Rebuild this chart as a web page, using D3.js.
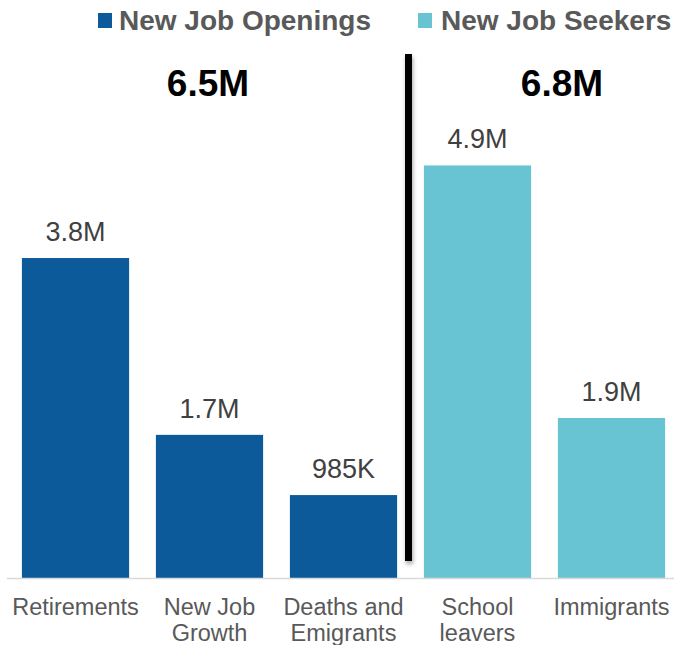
<!DOCTYPE html>
<html>
<head>
<meta charset="utf-8">
<script src="https://cdn.jsdelivr.net/npm/d3@7"></script>
<style>
  body { margin: 0; background: #fff; }
  text { font-family: "Liberation Sans", Arial, sans-serif; }
</style>
</head>
<body>
<div id="chart"></div>
<script>
// categories and values (millions)
const categories = ['Retirements', 'New Job Growth', 'Deaths and Emigrants', 'School leavers', 'Immigrants'];
const axisLabels = [['Retirements'], ['New Job', 'Growth'], ['Deaths and', 'Emigrants'], ['School', 'leavers'], ['Immigrants']];
const values = [3.8, 1.7, 0.985, 4.9, 1.9];
const valueLabels = ['3.8M', '1.7M', '985K', '4.9M', '1.9M'];
const groups = ['New Job Openings', 'New Job Openings', 'New Job Openings', 'New Job Seekers', 'New Job Seekers'];
const seriesNames = ['New Job Openings', 'New Job Seekers'];
const totals = ['6.5M', '6.8M'];

const width = 674, height = 645;
const baseline = 578;

const color = d3.scaleOrdinal()
    .domain(seriesNames)
    .range(['#0C5A9A', '#68C4D3']);

const x = d3.scaleBand()
    .domain(categories)
    .range([8.5, 678.5])
    .paddingInner(0.2)
    .paddingOuter(0.1);

const y = d3.scaleLinear()
    .domain([0, 6])
    .range([baseline, baseline - 6 * 84.2]);

const svg = d3.select('#chart').append('svg')
    .attr('width', width)
    .attr('height', height);

// shadow for the divider
const defs = svg.append('defs');
const f = defs.append('filter').attr('id', 'shadow')
    .attr('x', '-100%').attr('y', '-5%').attr('width', '300%').attr('height', '110%');
f.append('feDropShadow')
    .attr('dx', 1).attr('dy', 3).attr('stdDeviation', 2)
    .attr('flood-color', '#000').attr('flood-opacity', 0.35);

// bars
svg.selectAll('.bar')
    .data(categories)
    .enter().append('rect')
    .attr('class', 'bar')
    .attr('x', d => x(d))
    .attr('width', x.bandwidth())
    .attr('y', (d, i) => y(values[i]))
    .attr('height', (d, i) => y(0) - y(values[i]))
    .attr('fill', (d, i) => color(groups[i]));

// baseline
svg.append('line')
    .attr('x1', 7).attr('x2', width)
    .attr('y1', baseline + 0.5).attr('y2', baseline + 0.5)
    .attr('stroke', '#d9d9d9')
    .attr('stroke-width', 1.5);

// value labels
svg.selectAll('.value-label')
    .data(categories)
    .enter().append('text')
    .attr('class', 'value-label')
    .attr('x', d => x(d) + x.bandwidth() / 2)
    .attr('y', (d, i) => y(values[i]) - 17)
    .attr('text-anchor', 'middle')
    .attr('font-size', '27px')
    .attr('fill', '#404040')
    .text((d, i) => valueLabels[i]);

// category labels
const cat = svg.selectAll('.cat-label')
    .data(categories)
    .enter().append('text')
    .attr('class', 'cat-label')
    .attr('text-anchor', 'middle')
    .attr('font-size', '23.5px')
    .attr('fill', '#595959');

cat.selectAll('tspan')
    .data((d, i) => axisLabels[i].map(t => ({ t: t, cx: x(d) + x.bandwidth() / 2 })))
    .enter().append('tspan')
    .attr('x', d => d.cx)
    .attr('y', (d, j) => 615 + j * 26)
    .text(d => d.t);

// divider
svg.append('rect')
    .attr('x', 405)
    .attr('y', 54)
    .attr('width', 7)
    .attr('height', 507)
    .attr('fill', '#000')
    .attr('filter', 'url(#shadow)');

// group totals
const totalX = [208, 562];
svg.selectAll('.total')
    .data(totals)
    .enter().append('text')
    .attr('class', 'total')
    .attr('x', (d, i) => totalX[i])
    .attr('y', 96)
    .attr('text-anchor', 'middle')
    .attr('font-size', '37px')
    .attr('font-weight', 'bold')
    .attr('fill', '#000')
    .text(d => d);

// legend
const legendX = [98, 418];
const legendTextX = [21, 23];
const legend = svg.selectAll('.legend')
    .data(seriesNames)
    .enter().append('g')
    .attr('class', 'legend')
    .attr('transform', (d, i) => `translate(${legendX[i]},0)`);

legend.append('rect')
    .attr('x', 0).attr('y', 13)
    .attr('width', 14).attr('height', 15)
    .attr('fill', d => color(d));

legend.append('text')
    .attr('x', (d, i) => legendTextX[i])
    .attr('y', 30)
    .attr('font-size', '28px')
    .attr('font-weight', 'bold')
    .attr('fill', '#595959')
    .text(d => d);
</script>
</body>
</html>
